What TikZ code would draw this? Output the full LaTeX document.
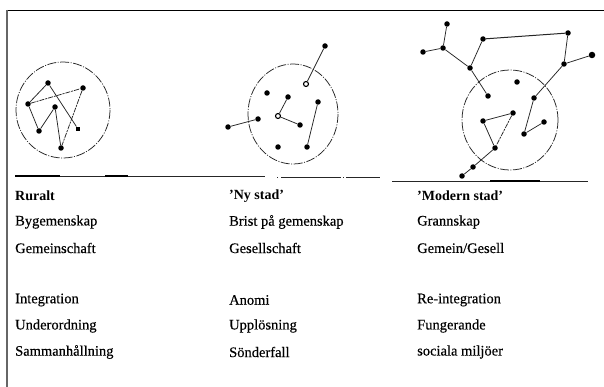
\documentclass[tikz,border=0pt]{standalone}
\usepackage{fontspec}
\setmainfont{Liberation Serif}[FakeBold=0.4]
\newfontfamily\headfont{Liberation Serif}[UprightFont=* Bold]
\begin{document}
\begin{tikzpicture}[x=1pt,y=-1pt,
  dot/.style={circle,fill=black,inner sep=0pt,minimum size=5.5pt},
  ring/.style={circle,draw=black,fill=white,line width=1.1pt,inner sep=0pt,minimum size=5pt},
  edge/.style={line width=0.75pt,black!85},
  dedge/.style={line width=0.75pt,black!85,dash pattern=on 5pt off 1pt on 2pt off 1pt},
  ring circle/.style={line width=0.75pt,black!85,dash pattern=on 9pt off 1.5pt on 1pt off 1.5pt},
  ground/.style={line width=0.8pt,black!85},
  lbl/.style={anchor=west,inner sep=0pt,font=\fontsize{14.5}{16}\selectfont},
  head/.style={lbl,font=\fontsize{14}{16}\selectfont\headfont}]
\useasboundingbox (0,0) rectangle (604,387);
\fill[white] (0,0) rectangle (604,387);
% frame
\draw[line width=1pt,black] (7,10.5) -- (604,10.5);
\draw[line width=1.6pt,black!60] (7,10) -- (7,387);
% ground lines
\coordinate (g1a) at (15,176); \coordinate (g1b) at (265,176);
\coordinate (g2a) at (277,177); \coordinate (g2b) at (380,177);
\coordinate (g3a) at (392,181); \coordinate (g3b) at (588,181);
\draw[ground] (g1a) -- (g1b);
\draw[line width=1.8pt] (15,176) -- (60,176);
\draw[line width=1.6pt] (105,176) -- (128,176);
\draw[ground,dash pattern=on 1pt off 3pt on 60pt off 2pt on 1pt off 2pt on 40pt off 2pt] (g2a) -- (g2b);
\draw[ground] (g3a) -- (g3b);
\draw[line width=1.6pt] (490,181) -- (540,181);

% ---------- group 1 ----------
\draw[ring circle] (63,110) ellipse (47 and 48);
\node[dot] (A) at (48,83) {};
\node[dot] (B) at (83,88) {};
\node[dot] (C) at (28,104) {};
\node[dot] (D) at (55,107) {};
\node[dot] (E) at (39,131) {};
\node[dot,rectangle,minimum size=4.5pt] (F) at (78,129) {};
\node[dot] (G) at (61,148) {};
\draw[edge] (A) -- (C);
\draw[dedge] (C) -- (B);
\draw[dedge] (B) -- (G);
\draw[edge] (A) -- (F);
\draw[edge] (C) -- (E);
\draw[edge] (E) -- (D);
\draw[edge] (D) -- (G);

% ---------- group 2 ----------
\draw[ring circle] (293,114) ellipse (45 and 50);
\node[dot] (a) at (325,46) {};
\node[ring] (b) at (306,84) {};
\node[dot] (c) at (267,93) {};
\node[dot] (d) at (288,97) {};
\node[ring] (e) at (278,116) {};
\node[dot] (f) at (300,125) {};
\node[dot] (g) at (318,102) {};
\node[dot] (h) at (258,119) {};
\node[dot] (i) at (228,127) {};
\node[dot] (j) at (278,147) {};
\node[dot] (k) at (307,147) {};
\draw[edge] (a) -- (b);
\draw[edge] (d) -- (e);
\draw[edge] (e) -- (f);
\draw[edge] (g) -- (k);
\draw[edge] (h) -- (i);

% ---------- group 3 ----------
\draw[ring circle] (510,120) ellipse (48 and 50);
\node[dot] (p1) at (447,24) {};
\node[dot] (p2) at (443,48) {};
\node[dot] (p3) at (423,52) {};
\node[dot] (p4) at (470,68) {};
\node[dot] (p5) at (483,39) {};
\node[dot] (p6) at (568,33) {};
\node[dot] (p7) at (564,64) {};
\node[dot,minimum size=6.5pt] (p8) at (592,55) {};
\node[dot] (p9) at (488,96) {};
\node[dot] (p10) at (517,82) {};
\node[dot] (p11) at (534,98) {};
\node[dot] (p12) at (483,121) {};
\node[dot] (p13) at (513,113) {};
\node[dot] (p14) at (495,148) {};
\node[dot] (p15) at (524,134) {};
\node[dot] (p16) at (544,122) {};
\node[dot] (p17) at (473,167) {};
\node[dot] (p18) at (462,176) {};
\draw[edge] (p1) -- (p2);
\draw[edge] (p3) -- (p2);
\draw[edge] (p2) -- (p4);
\draw[edge] (p4) -- (p5);
\draw[edge,line width=1pt] (p5) -- (p6);
\draw[edge] (p6) -- (p7);
\draw[edge] (p7) -- (p8);
\draw[edge] (p4) -- (p9);
\draw[edge] (p7) -- (p11);
\draw[edge] (p11) -- (p15);
\draw[edge] (p15) -- (p16);
\draw[edge] (p12) -- (p13);
\draw[edge] (p12) -- (p14);
\draw[dedge] (p13) -- (p14);
\draw[edge] (p14) -- (p17);
\draw[edge] (p17) -- (p18);

% ---------- texts ----------
\node[head] (t11) at (15,196) {Ruralt};
\node[lbl]  (t12) at (15,222) {Bygemenskap};
\node[lbl]  (t13) at (15,248) {Gemeinschaft};
\node[lbl]  (t14) at (15,300) {Integration};
\node[lbl]  (t15) at (15,326) {Underordning};
\node[lbl]  (t16) at (15,352) {Sammanhållning};
\node[head] (t21) at (229,196) {’Ny stad’};
\node[lbl]  (t22) at (229,222) {Brist på gemenskap};
\node[lbl]  (t23) at (229,248) {Gesellschaft};
\node[lbl]  (t24) at (229,300) {Anomi};
\node[lbl]  (t25) at (229,326) {Upplösning};
\node[lbl]  (t26) at (229,352) {Sönderfall};
\node[head] (t31) at (417,196) {’Modern stad’};
\node[lbl]  (t32) at (417,222) {Grannskap};
\node[lbl]  (t33) at (417,248) {Gemein/Gesell};
\node[lbl]  (t34) at (417,300) {Re-integration};
\node[lbl]  (t35) at (417,326) {Fungerande};
\node[lbl]  (t36) at (417,352) {sociala miljöer};
\end{tikzpicture}
\end{document}
